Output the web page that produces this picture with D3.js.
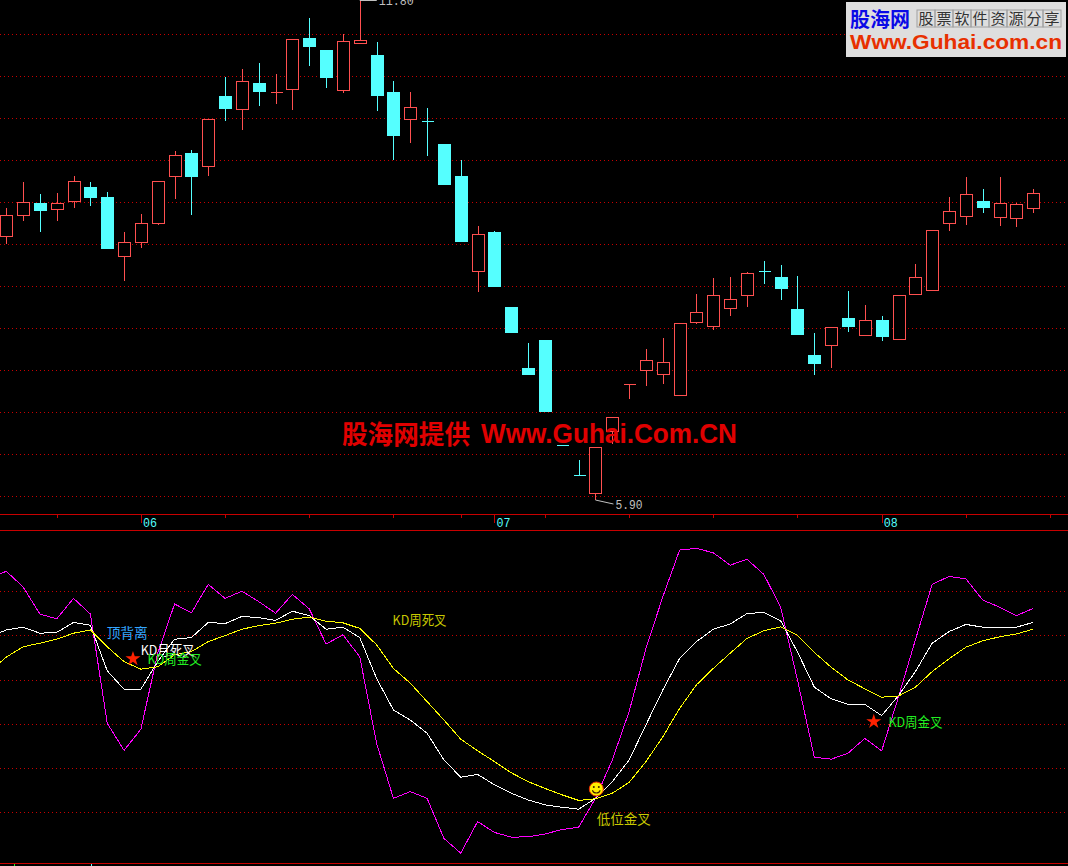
<!DOCTYPE html>
<html>
<head>
<meta charset="utf-8">
<script src="https://cdn.jsdelivr.net/npm/d3@7"></script>
<style>
  html, body { margin: 0; padding: 0; background: #000; }
  svg { display: block; }
  .cjk { font-family: "Noto Sans CJK SC", sans-serif; }
  .num { font-family: "Liberation Mono", monospace; }
</style>
</head>
<body>
<div id="chart"></div>
<script>
// candle prices, left to right
const open = [9.015,9.263,9.405,9.334,9.428,9.593,9.475,8.779,8.944,9.169,9.723,9.995,9.841,10.667,10.514,10.821,10.714,10.75,11.352,11.21,10.738,11.293,11.151,10.714,10.396,10.372,10.101,9.723,8.602,9.062,8.177,7.458,7.788,6.549,6.195,5.983,6.714,7.269,7.434,7.387,7.139,8.0,7.953,8.166,8.319,8.602,8.531,8.154,7.611,7.729,8.048,7.847,8.024,7.8,8.331,8.378,9.169,9.251,9.428,9.239,9.228,9.346];
const high = [9.346,9.652,9.511,9.523,9.723,9.652,9.534,9.062,9.275,9.664,10.018,10.03,10.396,10.891,10.986,11.057,10.927,11.34,11.588,11.21,11.399,11.8,11.304,10.844,10.714,10.526,10.101,9.912,9.133,9.074,8.177,7.753,7.788,6.549,6.372,6.525,6.879,7.269,7.682,7.812,7.989,8.331,8.52,8.531,8.59,8.72,8.673,8.543,7.871,7.941,8.366,8.201,8.071,8.319,8.685,9.086,9.475,9.711,9.57,9.711,9.405,9.57];
const low = [8.921,9.192,9.062,9.192,9.346,9.369,8.862,8.484,8.874,9.145,9.452,9.263,9.723,10.372,10.266,10.549,10.573,10.502,11.021,10.762,10.703,11.281,10.49,9.912,10.113,9.959,9.629,8.956,8.354,8.425,7.882,7.387,6.95,6.548,6.194,5.9,6.561,7.092,7.245,7.269,7.139,7.977,7.906,8.071,8.177,8.449,8.26,7.859,7.375,7.458,7.882,7.847,7.776,7.8,8.331,8.378,9.074,9.145,9.287,9.133,9.121,9.287];
const close = [9.263,9.416,9.322,9.405,9.664,9.475,8.874,8.944,9.169,9.664,9.971,9.723,10.396,10.526,10.844,10.726,10.714,11.34,11.257,10.891,11.316,11.328,10.679,10.207,10.537,10.371,9.629,8.956,9.039,8.425,7.882,7.387,6.95,6.548,6.194,6.525,6.879,7.269,7.552,7.528,7.989,8.118,8.319,8.272,8.579,8.601,8.402,7.859,7.517,7.941,7.953,8.024,7.835,8.319,8.531,9.086,9.31,9.511,9.357,9.405,9.393,9.523];

// indicator lines, first value is one bar before the first candle
const fastLine = [70.2,72.2,68.3,61.5,60.3,65.4,61.5,34.2,27.4,32.7,51.7,64,61.8,68.9,65.4,67.2,64.6,61.7,66.4,62.8,54,56.3,50.8,29.2,15.4,17.1,15.4,5.4,1.7,9.6,6.9,5.7,5.8,6.5,7.6,8.2,15.4,25,37.1,52.9,65.8,77.5,77.9,76.8,73.7,75.2,71.4,63.2,45,25.7,25.2,26.7,30.4,27.3,40.8,55,68.9,70.9,70.3,65,63.2,61.1,62.9];
const midLine = [55.8,57.5,58.2,56.7,56.9,59.4,58.7,47.3,42.7,42.7,49.6,55.2,55.6,59.4,59.1,60.9,60.6,59.9,62.2,61.1,57.7,58.2,55.6,45.4,37.5,35,31.7,25,20.7,21.4,18.8,16.7,15,13.8,13.2,12.7,15.4,19.6,25,33.8,42.5,50.4,54.6,57.7,59,61.6,61.9,59.8,52,43.2,40.3,38.9,38.9,36.1,41.1,47.1,54.2,57.1,58.9,58.2,58.2,58.2,59.4];
const slowLine = [47.1,50.7,53.3,54.2,55.2,56.7,57.5,53.3,49.6,47.7,48.3,51.3,52.1,54.6,56.1,57.7,58.6,59.2,60.2,60.7,59.7,59.3,57.9,53.8,47.9,44.2,39.6,35,30.2,27.3,24.6,21.8,19.6,17.9,16.3,14.9,15.3,16.7,19.4,24.6,30.8,37.9,43.8,47.9,51.7,55.4,57.3,58.3,56.2,51.9,48.2,45,42.8,40.7,41,43.2,47.1,50.3,53.2,54.8,55.8,56.5,57.7];

const priceLevels = [11.399,10.903,10.408,9.912,9.416,8.921,8.425,7.93,7.434,6.938,6.443,5.947];
const indicatorLevels = [12,23,34,45.1,56.2,67.3];

const monthBars = [3,13,18,23,27,32,37,42,47,57,62];
const yearBars = [8,29,52];
const yearLabels = ['06','07','08'];

const noteTexts = ['顶背离','KD月死叉','KD周金叉','KD周死叉','低位金叉','KD周金叉'];
const noteBars = [5.97,7.99,8.4,22.95,35.07,52.4];
const noteValues = [55.5,51.25,49,58.75,9,33.25];
const noteColors = ['#33a6ff','#ffffff','#22ee22','#c8c800','#c8c800','#22ee22'];

const starBars = [7.53,51.53];
const starValues = [50.3,34.6];

const width = 1068;
const height = 866;
const red = '#ff5050';
const cyan = '#55ffff';
const gridRed = '#c80000';

const x = d3.scaleLinear().domain([0, 61]).range([6.2, 1033.2]);
const y = d3.scaleLinear().domain([5.9, 11.8]).range([500, 0]);
const yInd = d3.scaleLinear().domain([0, 100]).range([860, 460]);

const svg = d3.select('#chart').append('svg')
  .attr('width', width)
  .attr('height', height)
  .style('background', '#000');

// dotted grid of both panels
function drawGrid(scale, levels) {
  const g = svg.append('g')
    .call(d3.axisLeft(scale).tickValues(levels).tickSize(-width).tickFormat(''));
  g.select('.domain').remove();
  g.selectAll('line')
    .attr('stroke', gridRed)
    .attr('stroke-dasharray', '1,3')
    .attr('shape-rendering', 'crispEdges');
}
drawGrid(y, priceLevels);
drawGrid(yInd, indicatorLevels);

// candles
const bars = close.map((c, i) => ({ i, open: open[i], high: high[i], low: low[i], close: c }));
const candle = svg.append('g').attr('shape-rendering', 'crispEdges')
  .selectAll('g').data(bars).enter().append('g');

candle.append('line')
  .attr('x1', d => Math.round(x(d.i)) + 0.5)
  .attr('x2', d => Math.round(x(d.i)) + 0.5)
  .attr('y1', d => y(d.high))
  .attr('y2', d => y(d.low))
  .attr('stroke', d => d.close >= d.open ? red : cyan);

// a path, so that a flat doji still gets its bar
candle.append('path')
  .attr('d', d => {
    const top = Math.round(y(Math.max(d.open, d.close)));
    const bottom = Math.round(y(Math.min(d.open, d.close)));
    return `M${Math.round(x(d.i)) - 5.5},${top + 0.5}h12v${bottom - top}h-12Z`;
  })
  .attr('fill', d => d.close >= d.open ? '#000' : cyan)
  .attr('stroke', d => d.close >= d.open ? red : cyan);

// high and low markers
const extremeColor = '#c0c0c0';
svg.append('path')
  .attr('d', `M${x(21)},${y(11.8) + 0.5}H${x(21) + 17}`)
  .attr('stroke', extremeColor).attr('fill', 'none');
svg.append('path')
  .attr('d', `M${x(35)},${y(5.9)}L${x(35) + 18},${y(5.9) + 4}`)
  .attr('stroke', extremeColor).attr('fill', 'none');
svg.append('text').attr('class', 'num')
  .attr('x', x(21) + 19).attr('y', y(11.8) + 5)
  .attr('font-size', 13).attr('fill', extremeColor)
  .attr('textLength', 35).attr('lengthAdjust', 'spacingAndGlyphs').text('11.80');
svg.append('text').attr('class', 'num')
  .attr('x', x(35) + 20).attr('y', y(5.9) + 9)
  .attr('font-size', 13).attr('fill', extremeColor)
  .attr('textLength', 27).attr('lengthAdjust', 'spacingAndGlyphs').text('5.90');

// time axis between the panels
svg.append('g').attr('stroke', gridRed).attr('shape-rendering', 'crispEdges')
  .selectAll('line').data([514, 530, 863]).enter().append('line')
  .attr('x1', 0).attr('x2', width)
  .attr('y1', d => d + 0.5).attr('y2', d => d + 0.5);

const monthAxis = svg.append('g').attr('transform', 'translate(0,514)')
  .call(d3.axisBottom(x).tickValues(monthBars).tickSize(4).tickFormat(''));
const yearAxis = svg.append('g').attr('transform', 'translate(0,514)')
  .call(d3.axisBottom(x).tickValues(yearBars).tickSize(9)
    .tickFormat((d, i) => yearLabels[i]));
[monthAxis, yearAxis].forEach(a => {
  a.select('.domain').remove();
  a.selectAll('line').attr('stroke', gridRed).attr('shape-rendering', 'crispEdges');
});
yearAxis.selectAll('text')
  .attr('class', 'num')
  .attr('text-anchor', 'start')
  .attr('x', 1.5).attr('y', 4).attr('dy', '0.71em')
  .attr('font-size', 13)
  .attr('textLength', 14)
  .attr('lengthAdjust', 'spacingAndGlyphs')
  .attr('fill', cyan);

// indicator lines
const line = d3.line().x((d, i) => x(i - 1)).y(d => yInd(d));
[[fastLine, '#ff00ff'], [midLine, '#ffffff'], [slowLine, '#ffff00']].forEach(([vals, color]) => {
  svg.append('path')
    .attr('d', line(vals))
    .attr('fill', 'none')
    .attr('stroke', color)
    .attr('shape-rendering', 'crispEdges');
});

// signal marks
svg.append('g').selectAll('path').data(starBars).enter().append('path')
  .attr('d', d3.symbol(d3.symbolStar, 70))
  .attr('transform', (d, i) => `translate(${x(d)},${yInd(starValues[i])})`)
  .attr('fill', '#ff2200');

const smile = svg.append('g')
  .attr('transform', `translate(${x(35.05)},${yInd(17.75)})`);
smile.append('circle').attr('r', 7).attr('fill', '#ffee00').attr('stroke', '#e83000');
smile.append('circle').attr('cx', -2.5).attr('cy', -2).attr('r', 1).attr('fill', '#402000');
smile.append('circle').attr('cx', 2.5).attr('cy', -2).attr('r', 1).attr('fill', '#402000');
smile.append('path')
  .attr('d', d3.arc()({ innerRadius: 3.6, outerRadius: 4.6, startAngle: Math.PI * 0.6, endAngle: Math.PI * 1.4 }))
  .attr('fill', '#402000');

svg.append('g').selectAll('text').data(noteTexts).enter().append('text')
  .attr('class', 'cjk')
  .attr('x', (d, i) => x(noteBars[i]))
  .attr('y', (d, i) => yInd(noteValues[i]))
  .attr('font-size', 13.5)
  .attr('fill', (d, i) => noteColors[i])
  .attr('textLength', d => d.length > 3 ? 54 : 41)
  .attr('lengthAdjust', 'spacingAndGlyphs')
  .text(d => d);

// stubs of the hidden pane below
svg.append('g').selectAll('line').data([[14, '#22ee22'], [91, cyan]]).enter().append('line')
  .attr('x1', d => d[0] + 0.5).attr('x2', d => d[0] + 0.5)
  .attr('y1', 864).attr('y2', 866)
  .attr('stroke', d => d[1]);

// watermark
svg.append('text')
  .attr('x', 342).attr('y', 444)
  .attr('font-family', '"Noto Sans CJK SC", sans-serif')
  .attr('font-weight', 'bold')
  .attr('font-size', 26)
  .attr('fill', '#e00000')
  .attr('textLength', 128)
  .attr('lengthAdjust', 'spacingAndGlyphs')
  .text('股海网提供');
svg.append('text')
  .attr('x', 481).attr('y', 443)
  .attr('font-family', '"Liberation Sans", sans-serif')
  .attr('font-weight', 'bold')
  .attr('font-size', 28)
  .attr('fill', '#e00000')
  .attr('textLength', 256)
  .attr('lengthAdjust', 'spacingAndGlyphs')
  .text('Www.Guhai.Com.CN');

// logo box
const logo = svg.append('g');
logo.append('rect').attr('x', 846).attr('y', 2).attr('width', 220).attr('height', 55).attr('fill', '#dedede');
logo.append('text')
  .attr('x', 850).attr('y', 27)
  .attr('font-family', '"Noto Sans CJK SC", sans-serif')
  .attr('font-weight', 'bold').attr('font-size', 20).attr('fill', '#0a0ae6')
  .text('股海网');
const slogan = '股票软件资源分享'.split('');
const slot = d3.scaleBand().domain(d3.range(slogan.length)).range([917, 1061]);
const cell = logo.append('g').selectAll('g').data(slogan).enter().append('g')
  .attr('transform', (d, i) => `translate(${slot(i)},10)`);
cell.append('rect').attr('width', slot.bandwidth()).attr('height', 17)
  .attr('fill', 'none').attr('stroke', '#a0a0a0');
cell.append('text').attr('x', 9).attr('y', 14)
  .attr('text-anchor', 'middle')
  .attr('font-family', '"Noto Sans CJK SC", sans-serif')
  .attr('font-size', 15).attr('fill', '#333').text(d => d);
logo.append('text')
  .attr('x', 850).attr('y', 49)
  .attr('font-family', '"Liberation Sans", sans-serif')
  .attr('font-weight', 'bold').attr('font-size', 20).attr('fill', '#e83000')
  .attr('textLength', 212)
  .attr('lengthAdjust', 'spacingAndGlyphs')
  .text('Www.Guhai.com.cn');
</script>
</body>
</html>
